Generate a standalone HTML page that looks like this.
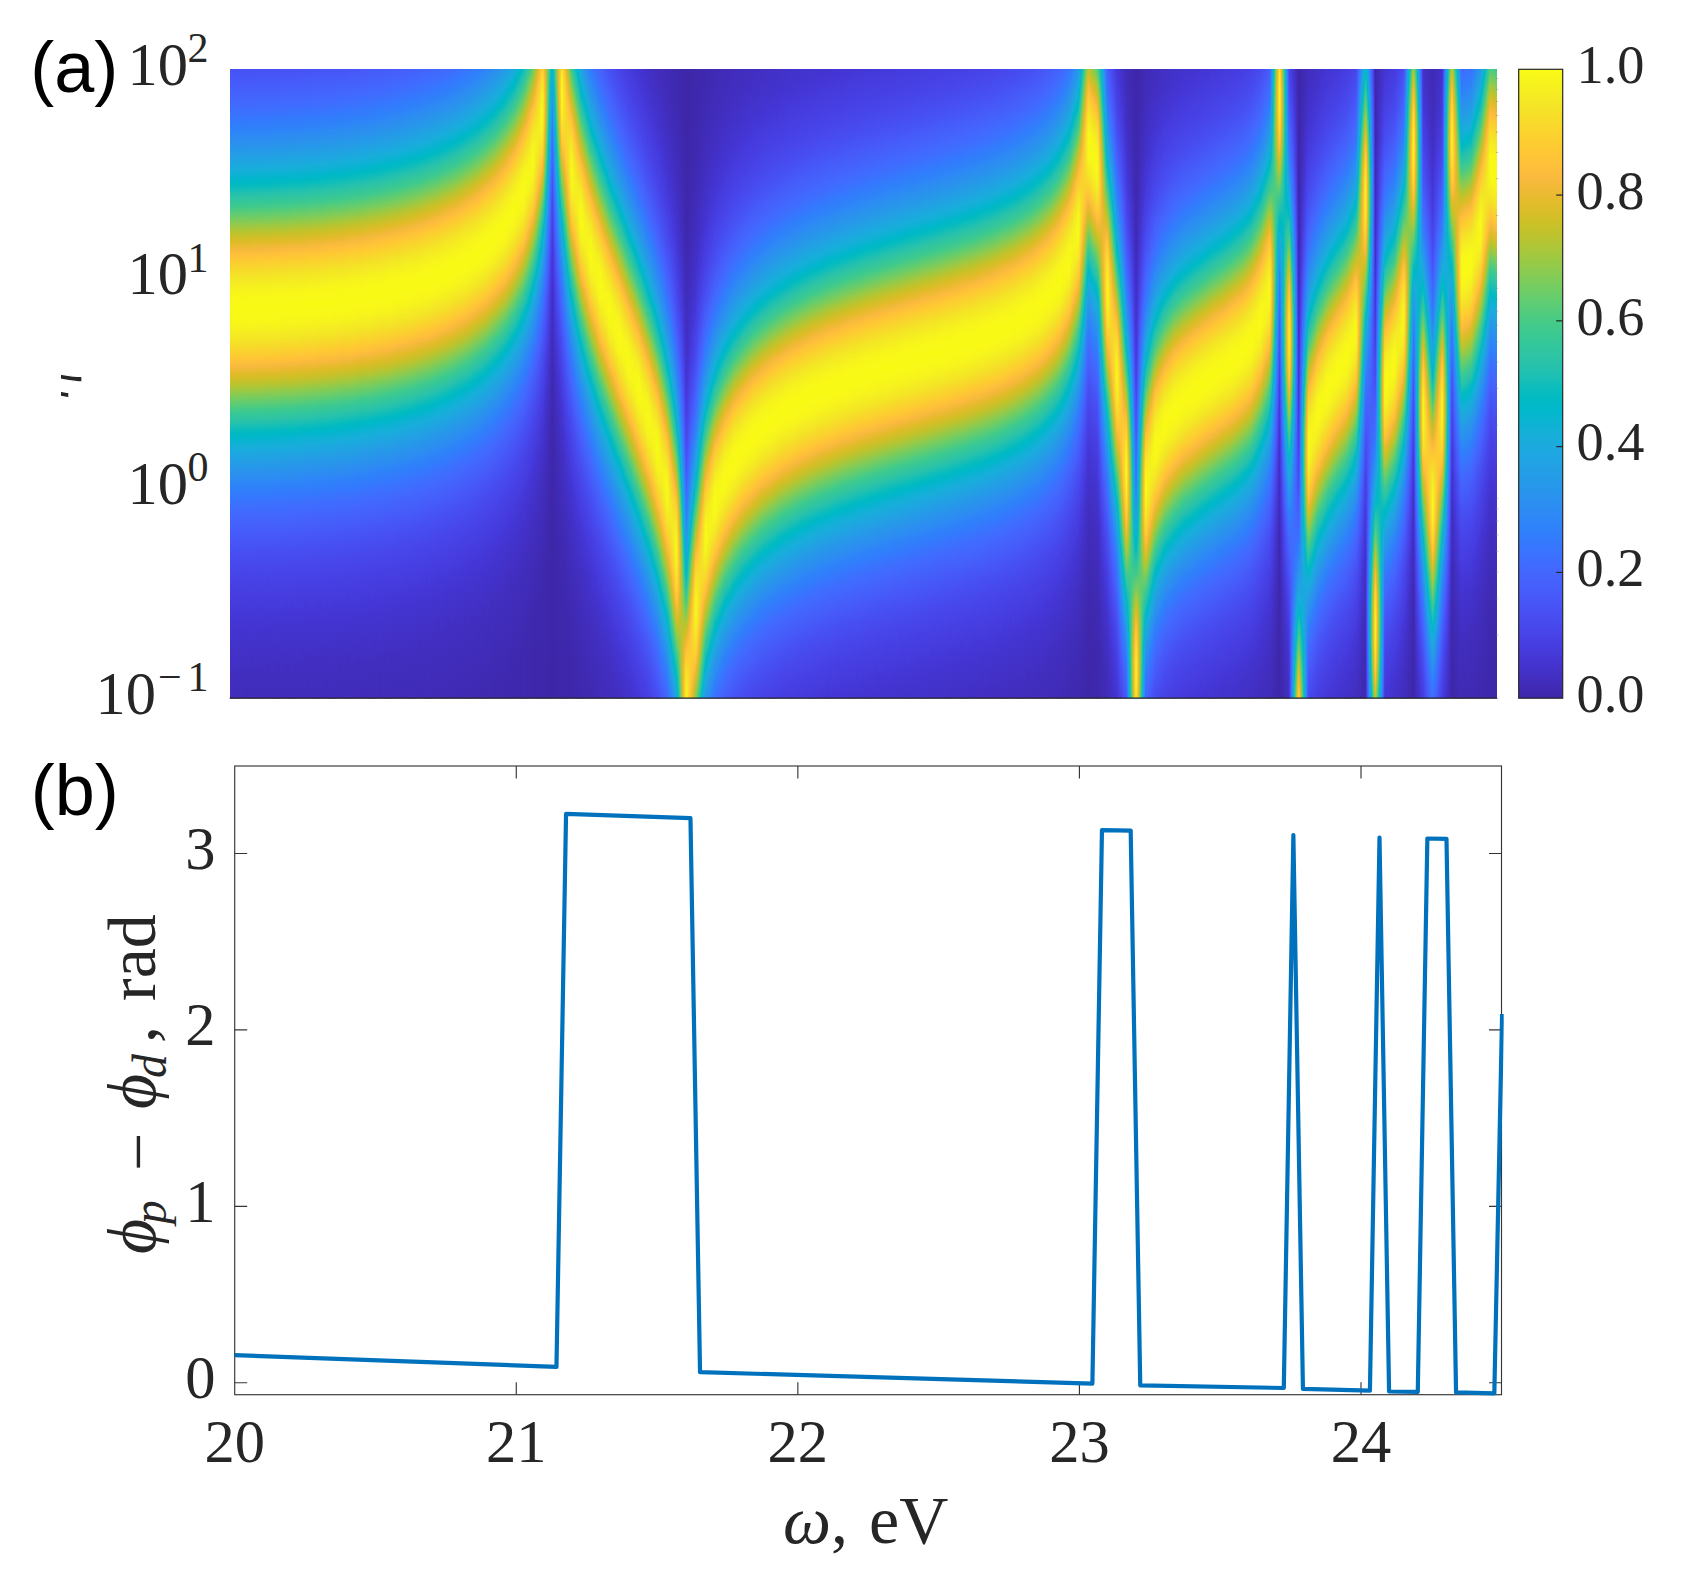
<!DOCTYPE html><html><head><meta charset="utf-8"><title>figure</title><style>html,body{margin:0;padding:0;background:#fff}svg{display:block}text{font-family:"Liberation Serif",serif;fill:#262626}.s{font-family:"Liberation Sans",sans-serif;fill:#000}</style></head><body><svg width="1691" height="1575" viewBox="0 0 1691 1575"><defs><linearGradient id="G" x1="0" y1="0" x2="0" y2="1"><stop offset="0" stop-color="rgb(0,0,0)"/><stop offset="0.02679" stop-color="rgb(0,0,0)"/><stop offset="0.05357" stop-color="rgb(0,0,0)"/><stop offset="0.08036" stop-color="rgb(0,0,0)"/><stop offset="0.10714" stop-color="rgb(0,0,0)"/><stop offset="0.13393" stop-color="rgb(0,0,0)"/><stop offset="0.16071" stop-color="rgb(0,0,0)"/><stop offset="0.1875" stop-color="rgb(0,0,0)"/><stop offset="0.21429" stop-color="rgb(0,0,0)"/><stop offset="0.24107" stop-color="rgb(0,0,0)"/><stop offset="0.26786" stop-color="rgb(0,0,0)"/><stop offset="0.29464" stop-color="rgb(1,1,1)"/><stop offset="0.32143" stop-color="rgb(2,2,2)"/><stop offset="0.32679" stop-color="rgb(2,2,2)"/><stop offset="0.33214" stop-color="rgb(3,3,3)"/><stop offset="0.3375" stop-color="rgb(3,3,3)"/><stop offset="0.34286" stop-color="rgb(4,4,4)"/><stop offset="0.34821" stop-color="rgb(5,5,5)"/><stop offset="0.35357" stop-color="rgb(6,6,6)"/><stop offset="0.35893" stop-color="rgb(7,7,7)"/><stop offset="0.36429" stop-color="rgb(8,8,8)"/><stop offset="0.36964" stop-color="rgb(9,9,9)"/><stop offset="0.375" stop-color="rgb(11,11,11)"/><stop offset="0.38036" stop-color="rgb(13,13,13)"/><stop offset="0.38571" stop-color="rgb(15,15,15)"/><stop offset="0.39107" stop-color="rgb(18,18,18)"/><stop offset="0.39643" stop-color="rgb(21,21,21)"/><stop offset="0.40179" stop-color="rgb(25,25,25)"/><stop offset="0.40714" stop-color="rgb(29,29,29)"/><stop offset="0.4125" stop-color="rgb(34,34,34)"/><stop offset="0.41786" stop-color="rgb(41,41,41)"/><stop offset="0.42321" stop-color="rgb(48,48,48)"/><stop offset="0.42857" stop-color="rgb(56,56,56)"/><stop offset="0.42929" stop-color="rgb(57,57,57)"/><stop offset="0.43143" stop-color="rgb(61,61,61)"/><stop offset="0.43357" stop-color="rgb(65,65,65)"/><stop offset="0.43571" stop-color="rgb(69,69,69)"/><stop offset="0.43786" stop-color="rgb(74,74,74)"/><stop offset="0.44" stop-color="rgb(79,79,79)"/><stop offset="0.44214" stop-color="rgb(84,84,84)"/><stop offset="0.44429" stop-color="rgb(89,89,89)"/><stop offset="0.44643" stop-color="rgb(95,95,95)"/><stop offset="0.44857" stop-color="rgb(101,101,101)"/><stop offset="0.45071" stop-color="rgb(107,107,107)"/><stop offset="0.45286" stop-color="rgb(113,113,113)"/><stop offset="0.455" stop-color="rgb(120,120,120)"/><stop offset="0.45714" stop-color="rgb(127,127,127)"/><stop offset="0.45929" stop-color="rgb(135,135,135)"/><stop offset="0.46143" stop-color="rgb(143,143,143)"/><stop offset="0.46357" stop-color="rgb(150,150,150)"/><stop offset="0.46571" stop-color="rgb(159,159,159)"/><stop offset="0.46786" stop-color="rgb(167,167,167)"/><stop offset="0.47" stop-color="rgb(175,175,175)"/><stop offset="0.47214" stop-color="rgb(184,184,184)"/><stop offset="0.47429" stop-color="rgb(192,192,192)"/><stop offset="0.47643" stop-color="rgb(200,200,200)"/><stop offset="0.47857" stop-color="rgb(208,208,208)"/><stop offset="0.48071" stop-color="rgb(216,216,216)"/><stop offset="0.48286" stop-color="rgb(223,223,223)"/><stop offset="0.485" stop-color="rgb(230,230,230)"/><stop offset="0.48714" stop-color="rgb(236,236,236)"/><stop offset="0.48929" stop-color="rgb(242,242,242)"/><stop offset="0.49143" stop-color="rgb(246,246,246)"/><stop offset="0.49357" stop-color="rgb(250,250,250)"/><stop offset="0.49571" stop-color="rgb(253,253,253)"/><stop offset="0.49786" stop-color="rgb(254,254,254)"/><stop offset="0.5" stop-color="rgb(255,255,255)"/><stop offset="0.50214" stop-color="rgb(254,254,254)"/><stop offset="0.50429" stop-color="rgb(253,253,253)"/><stop offset="0.50643" stop-color="rgb(250,250,250)"/><stop offset="0.50857" stop-color="rgb(246,246,246)"/><stop offset="0.51071" stop-color="rgb(242,242,242)"/><stop offset="0.51286" stop-color="rgb(236,236,236)"/><stop offset="0.515" stop-color="rgb(230,230,230)"/><stop offset="0.51714" stop-color="rgb(223,223,223)"/><stop offset="0.51929" stop-color="rgb(216,216,216)"/><stop offset="0.52143" stop-color="rgb(208,208,208)"/><stop offset="0.52357" stop-color="rgb(200,200,200)"/><stop offset="0.52571" stop-color="rgb(192,192,192)"/><stop offset="0.52786" stop-color="rgb(184,184,184)"/><stop offset="0.53" stop-color="rgb(175,175,175)"/><stop offset="0.53214" stop-color="rgb(167,167,167)"/><stop offset="0.53429" stop-color="rgb(159,159,159)"/><stop offset="0.53643" stop-color="rgb(150,150,150)"/><stop offset="0.53857" stop-color="rgb(143,143,143)"/><stop offset="0.54071" stop-color="rgb(135,135,135)"/><stop offset="0.54286" stop-color="rgb(127,127,127)"/><stop offset="0.545" stop-color="rgb(120,120,120)"/><stop offset="0.54714" stop-color="rgb(113,113,113)"/><stop offset="0.54929" stop-color="rgb(107,107,107)"/><stop offset="0.55143" stop-color="rgb(101,101,101)"/><stop offset="0.55357" stop-color="rgb(95,95,95)"/><stop offset="0.55571" stop-color="rgb(89,89,89)"/><stop offset="0.55786" stop-color="rgb(84,84,84)"/><stop offset="0.56" stop-color="rgb(79,79,79)"/><stop offset="0.56214" stop-color="rgb(74,74,74)"/><stop offset="0.56429" stop-color="rgb(69,69,69)"/><stop offset="0.56643" stop-color="rgb(65,65,65)"/><stop offset="0.56857" stop-color="rgb(61,61,61)"/><stop offset="0.57071" stop-color="rgb(57,57,57)"/><stop offset="0.57143" stop-color="rgb(56,56,56)"/><stop offset="0.57679" stop-color="rgb(48,48,48)"/><stop offset="0.58214" stop-color="rgb(41,41,41)"/><stop offset="0.5875" stop-color="rgb(34,34,34)"/><stop offset="0.59286" stop-color="rgb(29,29,29)"/><stop offset="0.59821" stop-color="rgb(25,25,25)"/><stop offset="0.60357" stop-color="rgb(21,21,21)"/><stop offset="0.60893" stop-color="rgb(18,18,18)"/><stop offset="0.61429" stop-color="rgb(15,15,15)"/><stop offset="0.61964" stop-color="rgb(13,13,13)"/><stop offset="0.625" stop-color="rgb(11,11,11)"/><stop offset="0.63036" stop-color="rgb(9,9,9)"/><stop offset="0.63571" stop-color="rgb(8,8,8)"/><stop offset="0.64107" stop-color="rgb(7,7,7)"/><stop offset="0.64643" stop-color="rgb(6,6,6)"/><stop offset="0.65179" stop-color="rgb(5,5,5)"/><stop offset="0.65714" stop-color="rgb(4,4,4)"/><stop offset="0.6625" stop-color="rgb(3,3,3)"/><stop offset="0.66786" stop-color="rgb(3,3,3)"/><stop offset="0.67321" stop-color="rgb(2,2,2)"/><stop offset="0.67857" stop-color="rgb(2,2,2)"/><stop offset="0.70536" stop-color="rgb(1,1,1)"/><stop offset="0.73214" stop-color="rgb(0,0,0)"/><stop offset="0.75893" stop-color="rgb(0,0,0)"/><stop offset="0.78571" stop-color="rgb(0,0,0)"/><stop offset="0.8125" stop-color="rgb(0,0,0)"/><stop offset="0.83929" stop-color="rgb(0,0,0)"/><stop offset="0.86607" stop-color="rgb(0,0,0)"/><stop offset="0.89286" stop-color="rgb(0,0,0)"/><stop offset="0.91964" stop-color="rgb(0,0,0)"/><stop offset="0.94643" stop-color="rgb(0,0,0)"/><stop offset="0.97321" stop-color="rgb(0,0,0)"/><stop offset="1" stop-color="rgb(0,0,0)"/></linearGradient><linearGradient id="tg" gradientUnits="userSpaceOnUse" x1="1279.6" y1="0" x2="1289.17" y2="0" spreadMethod="reflect"><stop offset="0" stop-color="#fff" stop-opacity="0"/><stop offset="1" stop-color="#fff" stop-opacity="1"/></linearGradient><mask id="tri" maskUnits="userSpaceOnUse" x="200" y="50" width="1320" height="670" style="mask-type:alpha"><rect x="200" y="50" width="1320" height="670" fill="url(#tg)"/></mask><clipPath id="hc"><rect x="230" y="69" width="1267" height="629.2"/></clipPath><filter id="pf" filterUnits="userSpaceOnUse" x="228" y="67" width="1271" height="633.2" color-interpolation-filters="sRGB"><feComponentTransfer><feFuncR type="table" tableValues="0.2422 0.2504 0.2578 0.2647 0.2706 0.2751 0.2783 0.2803 0.2813 0.281 0.2795 0.276 0.2699 0.2602 0.244 0.2206 0.1963 0.1834 0.1786 0.1764 0.1687 0.154 0.146 0.138 0.1248 0.1113 0.0952 0.0689 0.0297 0.0036 0.0067 0.0433 0.0964 0.1408 0.1717 0.1938 0.2161 0.247 0.2906 0.3406 0.3909 0.4456 0.5044 0.5616 0.6174 0.672 0.7242 0.7738 0.8203 0.8634 0.9035 0.9393 0.9728 0.9956 0.997 0.9952 0.9892 0.9786 0.9676 0.961 0.9597 0.9628 0.9691 0.9769"/><feFuncG type="table" tableValues="0.1504 0.165 0.1818 0.1978 0.2147 0.2342 0.2559 0.2782 0.3006 0.3228 0.3447 0.3667 0.3892 0.4123 0.4358 0.4603 0.4847 0.5074 0.5289 0.5499 0.5703 0.5902 0.6091 0.6276 0.6459 0.6635 0.6798 0.6948 0.7082 0.7203 0.7312 0.7411 0.75 0.7584 0.767 0.7758 0.7843 0.7918 0.7973 0.8008 0.8029 0.8024 0.7993 0.7942 0.7876 0.7793 0.7698 0.7598 0.7498 0.7406 0.733 0.7288 0.7298 0.7434 0.7659 0.7893 0.8136 0.8386 0.8639 0.889 0.9135 0.9373 0.9606 0.9839"/><feFuncB type="table" tableValues="0.6603 0.7076 0.7511 0.7952 0.8364 0.871 0.8991 0.9221 0.9414 0.9579 0.9717 0.9829 0.9906 0.9952 0.9988 0.9973 0.9892 0.9798 0.9682 0.952 0.9359 0.9218 0.9079 0.8973 0.8883 0.8763 0.8598 0.8394 0.8163 0.7917 0.766 0.7394 0.712 0.6842 0.6554 0.6251 0.5923 0.5567 0.5188 0.4789 0.4354 0.3909 0.348 0.3045 0.2612 0.2227 0.191 0.1646 0.1535 0.1596 0.1774 0.21 0.2394 0.2371 0.2199 0.2028 0.1885 0.1766 0.1643 0.1537 0.1423 0.1265 0.1064 0.0805"/></feComponentTransfer></filter></defs><defs><linearGradient id="cb" x1="0" y1="0" x2="0" y2="1"><stop offset="0" stop-color="rgb(249,251,21)"/><stop offset="0.0159" stop-color="rgb(247,245,27)"/><stop offset="0.0317" stop-color="rgb(246,239,32)"/><stop offset="0.0476" stop-color="rgb(245,233,36)"/><stop offset="0.0635" stop-color="rgb(245,227,39)"/><stop offset="0.0794" stop-color="rgb(247,220,42)"/><stop offset="0.0952" stop-color="rgb(250,214,45)"/><stop offset="0.1111" stop-color="rgb(252,207,48)"/><stop offset="0.127" stop-color="rgb(254,201,52)"/><stop offset="0.1429" stop-color="rgb(254,195,56)"/><stop offset="0.1587" stop-color="rgb(254,190,60)"/><stop offset="0.1746" stop-color="rgb(248,186,61)"/><stop offset="0.1905" stop-color="rgb(240,186,54)"/><stop offset="0.2063" stop-color="rgb(230,187,45)"/><stop offset="0.2222" stop-color="rgb(220,189,41)"/><stop offset="0.2381" stop-color="rgb(209,191,39)"/><stop offset="0.254" stop-color="rgb(197,194,42)"/><stop offset="0.2698" stop-color="rgb(185,196,49)"/><stop offset="0.2857" stop-color="rgb(171,199,57)"/><stop offset="0.3016" stop-color="rgb(157,201,67)"/><stop offset="0.3175" stop-color="rgb(143,203,78)"/><stop offset="0.3333" stop-color="rgb(129,204,89)"/><stop offset="0.3492" stop-color="rgb(114,205,100)"/><stop offset="0.3651" stop-color="rgb(100,205,111)"/><stop offset="0.381" stop-color="rgb(87,204,122)"/><stop offset="0.3968" stop-color="rgb(74,203,132)"/><stop offset="0.4127" stop-color="rgb(63,202,142)"/><stop offset="0.4286" stop-color="rgb(55,200,151)"/><stop offset="0.4444" stop-color="rgb(49,198,159)"/><stop offset="0.4603" stop-color="rgb(44,196,167)"/><stop offset="0.4762" stop-color="rgb(36,193,174)"/><stop offset="0.4921" stop-color="rgb(25,191,182)"/><stop offset="0.5079" stop-color="rgb(11,189,189)"/><stop offset="0.5238" stop-color="rgb(2,186,195)"/><stop offset="0.5397" stop-color="rgb(1,184,202)"/><stop offset="0.5556" stop-color="rgb(8,181,208)"/><stop offset="0.5714" stop-color="rgb(18,177,214)"/><stop offset="0.5873" stop-color="rgb(24,173,219)"/><stop offset="0.6032" stop-color="rgb(28,169,223)"/><stop offset="0.619" stop-color="rgb(32,165,227)"/><stop offset="0.6349" stop-color="rgb(35,160,229)"/><stop offset="0.6508" stop-color="rgb(37,155,232)"/><stop offset="0.6667" stop-color="rgb(39,151,235)"/><stop offset="0.6825" stop-color="rgb(43,145,239)"/><stop offset="0.6984" stop-color="rgb(45,140,243)"/><stop offset="0.7143" stop-color="rgb(46,135,247)"/><stop offset="0.7302" stop-color="rgb(47,129,250)"/><stop offset="0.746" stop-color="rgb(50,124,252)"/><stop offset="0.7619" stop-color="rgb(56,117,254)"/><stop offset="0.7778" stop-color="rgb(62,111,255)"/><stop offset="0.7937" stop-color="rgb(66,105,254)"/><stop offset="0.8095" stop-color="rgb(69,99,253)"/><stop offset="0.8254" stop-color="rgb(70,94,251)"/><stop offset="0.8413" stop-color="rgb(71,88,248)"/><stop offset="0.8571" stop-color="rgb(72,82,244)"/><stop offset="0.873" stop-color="rgb(72,77,240)"/><stop offset="0.8889" stop-color="rgb(71,71,235)"/><stop offset="0.9048" stop-color="rgb(71,65,229)"/><stop offset="0.9206" stop-color="rgb(70,60,222)"/><stop offset="0.9365" stop-color="rgb(69,55,213)"/><stop offset="0.9524" stop-color="rgb(67,50,203)"/><stop offset="0.9683" stop-color="rgb(66,46,192)"/><stop offset="0.9841" stop-color="rgb(64,42,180)"/><stop offset="1" stop-color="rgb(62,38,168)"/></linearGradient></defs><rect width="100%" height="100%" fill="#fff"/><g filter="url(#pf)"><g clip-path="url(#hc)" fill="url(#G)"><rect x="200" y="50" width="1320" height="670" fill="#000"/><g><rect x="217.03" y="-1091.2" width="19.74" height="2800"/><rect x="236.17" y="-1091.6" width="19.74" height="2800"/><rect x="255.31" y="-1092.3" width="19.74" height="2800"/><rect x="274.45" y="-1093.4" width="19.74" height="2800"/><rect x="293.59" y="-1094.8" width="19.74" height="2800"/><rect x="312.73" y="-1096.7" width="19.74" height="2800"/><rect x="331.87" y="-1099.1" width="19.74" height="2800"/><rect x="351.01" y="-1102.1" width="19.74" height="2800"/><rect x="370.15" y="-1105.8" width="19.74" height="2800"/><rect x="389.29" y="-1110.4" width="19.74" height="2800"/><rect x="408.43" y="-1116" width="19.74" height="2800"/><rect x="427.57" y="-1123.2" width="19.74" height="2800"/><rect x="446.71" y="-1132.5" width="19.74" height="2800"/><rect x="465.85" y="-1144.8" width="19.74" height="2800"/><rect x="484.99" y="-1162.1" width="19.74" height="2800"/><rect x="504.13" y="-1188.8" width="19.74" height="2800"/><rect x="523.27" y="-1238.4" width="19.74" height="2800"/><rect x="542.41" y="-1464.7" width="19.74" height="2800"/><rect x="561.55" y="-1228.4" width="19.74" height="2800"/><rect x="580.69" y="-1145.9" width="19.74" height="2800"/><rect x="599.83" y="-1088.8" width="19.74" height="2800"/><rect x="618.97" y="-1037.6" width="19.74" height="2800"/><rect x="638.11" y="-982.8" width="19.74" height="2800"/><rect x="657.25" y="-909.2" width="19.74" height="2800"/><rect x="676.39" y="-697.5" width="19.74" height="2800"/><rect x="695.53" y="-861.6" width="19.74" height="2800"/><rect x="714.67" y="-921.7" width="19.74" height="2800"/><rect x="733.81" y="-952.3" width="19.74" height="2800"/><rect x="752.95" y="-972.3" width="19.74" height="2800"/><rect x="772.09" y="-986.8" width="19.74" height="2800"/><rect x="791.23" y="-998.1" width="19.74" height="2800"/><rect x="810.37" y="-1007.4" width="19.74" height="2800"/><rect x="829.51" y="-1015.4" width="19.74" height="2800"/><rect x="848.65" y="-1022.4" width="19.74" height="2800"/><rect x="867.79" y="-1028.9" width="19.74" height="2800"/><rect x="886.93" y="-1034.9" width="19.74" height="2800"/><rect x="906.07" y="-1040.8" width="19.74" height="2800"/><rect x="925.21" y="-1046.6" width="19.74" height="2800"/><rect x="944.35" y="-1052.7" width="19.74" height="2800"/><rect x="963.49" y="-1059.2" width="19.74" height="2800"/><rect x="982.63" y="-1066.5" width="19.74" height="2800"/><rect x="1001.77" y="-1075.5" width="19.74" height="2800"/><rect x="1020.91" y="-1087.2" width="19.74" height="2800"/><rect x="1040.05" y="-1104.8" width="19.74" height="2800"/><rect x="1059.19" y="-1137.7" width="19.74" height="2800"/><rect x="1078.33" y="-1256.8" width="19.74" height="2800"/><rect x="1097.47" y="-1109" width="19.74" height="2800"/><rect x="1116.61" y="-926.6" width="19.74" height="2800"/><rect x="1135.75" y="-910.2" width="19.74" height="2800"/><rect x="1154.89" y="-975.8" width="19.74" height="2800"/><rect x="1174.03" y="-1000.5" width="19.74" height="2800"/><rect x="1193.17" y="-1016.3" width="19.74" height="2800"/><rect x="1212.31" y="-1030.5" width="19.74" height="2800"/><rect x="1231.45" y="-1046.6" width="19.74" height="2800"/><rect x="1250.59" y="-1079" width="19.74" height="2800"/><rect x="1269.73" y="-1305" width="19.74" height="2800"/><rect x="1288.87" y="-665" width="19.74" height="2800"/><rect x="1308.01" y="-987" width="19.74" height="2800"/><rect x="1327.15" y="-1027" width="19.74" height="2800"/><rect x="1346.29" y="-1068" width="19.74" height="2800"/><rect x="1365.43" y="-772" width="19.74" height="2800"/><rect x="1384.57" y="-1037" width="19.74" height="2800"/><rect x="1403.71" y="-1254" width="19.74" height="2800"/><rect x="1422.85" y="-896" width="19.74" height="2800"/><rect x="1441.99" y="-1262" width="19.74" height="2800"/><rect x="1461.13" y="-1136" width="19.74" height="2800"/><rect x="1480.27" y="-1233" width="19.74" height="2800"/><rect x="1499.41" y="-1225" width="19.74" height="2800"/></g><g mask="url(#tri)"><rect x="207.46" y="-1091.1" width="19.74" height="2800"/><rect x="226.6" y="-1091.3" width="19.74" height="2800"/><rect x="245.74" y="-1091.9" width="19.74" height="2800"/><rect x="264.88" y="-1092.8" width="19.74" height="2800"/><rect x="284.02" y="-1094" width="19.74" height="2800"/><rect x="303.16" y="-1095.7" width="19.74" height="2800"/><rect x="322.3" y="-1097.8" width="19.74" height="2800"/><rect x="341.44" y="-1100.5" width="19.74" height="2800"/><rect x="360.58" y="-1103.8" width="19.74" height="2800"/><rect x="379.72" y="-1107.9" width="19.74" height="2800"/><rect x="398.86" y="-1113" width="19.74" height="2800"/><rect x="418" y="-1119.4" width="19.74" height="2800"/><rect x="437.14" y="-1127.5" width="19.74" height="2800"/><rect x="456.28" y="-1138.1" width="19.74" height="2800"/><rect x="475.42" y="-1152.6" width="19.74" height="2800"/><rect x="494.56" y="-1173.8" width="19.74" height="2800"/><rect x="513.7" y="-1208.9" width="19.74" height="2800"/><rect x="532.84" y="-1289.6" width="19.74" height="2800"/><rect x="551.98" y="-1306.6" width="19.74" height="2800"/><rect x="571.12" y="-1181.5" width="19.74" height="2800"/><rect x="590.26" y="-1115.9" width="19.74" height="2800"/><rect x="609.4" y="-1063.1" width="19.74" height="2800"/><rect x="628.54" y="-1011.3" width="19.74" height="2800"/><rect x="647.68" y="-950.1" width="19.74" height="2800"/><rect x="666.82" y="-848.9" width="19.74" height="2800"/><rect x="685.96" y="-789.4" width="19.74" height="2800"/><rect x="705.1" y="-898" width="19.74" height="2800"/><rect x="724.24" y="-938.9" width="19.74" height="2800"/><rect x="743.38" y="-963.2" width="19.74" height="2800"/><rect x="762.52" y="-980" width="19.74" height="2800"/><rect x="781.66" y="-992.7" width="19.74" height="2800"/><rect x="800.8" y="-1003" width="19.74" height="2800"/><rect x="819.94" y="-1011.5" width="19.74" height="2800"/><rect x="839.08" y="-1019" width="19.74" height="2800"/><rect x="858.22" y="-1025.7" width="19.74" height="2800"/><rect x="877.36" y="-1031.9" width="19.74" height="2800"/><rect x="896.5" y="-1037.9" width="19.74" height="2800"/><rect x="915.64" y="-1043.7" width="19.74" height="2800"/><rect x="934.78" y="-1049.6" width="19.74" height="2800"/><rect x="953.92" y="-1055.8" width="19.74" height="2800"/><rect x="973.06" y="-1062.7" width="19.74" height="2800"/><rect x="992.2" y="-1070.8" width="19.74" height="2800"/><rect x="1011.34" y="-1080.9" width="19.74" height="2800"/><rect x="1030.48" y="-1095" width="19.74" height="2800"/><rect x="1049.62" y="-1118.1" width="19.74" height="2800"/><rect x="1068.76" y="-1171.4" width="19.74" height="2800"/><rect x="1087.9" y="-1233.9" width="19.74" height="2800"/><rect x="1107.04" y="-1025" width="19.74" height="2800"/><rect x="1126.18" y="-723.7" width="19.74" height="2800"/><rect x="1145.32" y="-953.3" width="19.74" height="2800"/><rect x="1164.46" y="-990.2" width="19.74" height="2800"/><rect x="1183.6" y="-1008.4" width="19.74" height="2800"/><rect x="1202.74" y="-1023.5" width="19.74" height="2800"/><rect x="1221.88" y="-1037.9" width="19.74" height="2800"/><rect x="1241.02" y="-1057.8" width="19.74" height="2800"/><rect x="1260.16" y="-1109" width="19.74" height="2800"/><rect x="1279.3" y="-1064" width="19.74" height="2800"/><rect x="1298.44" y="-954" width="19.74" height="2800"/><rect x="1317.58" y="-1010" width="19.74" height="2800"/><rect x="1336.72" y="-1043" width="19.74" height="2800"/><rect x="1355.86" y="-1205" width="19.74" height="2800"/><rect x="1375" y="-1014" width="19.74" height="2800"/><rect x="1394.14" y="-1083" width="19.74" height="2800"/><rect x="1413.28" y="-988" width="19.74" height="2800"/><rect x="1432.42" y="-990" width="19.74" height="2800"/><rect x="1451.56" y="-1128" width="19.74" height="2800"/><rect x="1470.7" y="-1172.5" width="19.74" height="2800"/><rect x="1489.84" y="-1225" width="19.74" height="2800"/></g></g></g><path d="M229.7 698.2H1497.3" stroke="#262626" stroke-width="1.3" fill="none"/><path d="M1495.8 215.6h2.4M1495.8 178.67h2.4M1495.8 152.46h2.4M1495.8 132.14h2.4M1495.8 115.53h2.4M1495.8 101.49h2.4M1495.8 89.33h2.4M1495.8 78.6h2.4M1495.8 425.33h2.4M1495.8 388.4h2.4M1495.8 362.19h2.4M1495.8 341.87h2.4M1495.8 325.26h2.4M1495.8 311.22h2.4M1495.8 299.06h2.4M1495.8 288.33h2.4M1495.8 635.06h2.4M1495.8 598.13h2.4M1495.8 571.93h2.4M1495.8 551.6h2.4M1495.8 535h2.4M1495.8 520.95h2.4M1495.8 508.79h2.4M1495.8 498.06h2.4" stroke="#8a8a8a" stroke-width="1" opacity="0.55" fill="none"/><rect x="1518.7" y="69.3" width="44" height="628.9" fill="url(#cb)" stroke="#262626" stroke-width="1.2"/><line x1="1556.2" x2="1562.7" y1="572.42" y2="572.42" stroke="#262626" stroke-width="1.2"/><line x1="1556.2" x2="1562.7" y1="446.64" y2="446.64" stroke="#262626" stroke-width="1.2"/><line x1="1556.2" x2="1562.7" y1="320.86" y2="320.86" stroke="#262626" stroke-width="1.2"/><line x1="1556.2" x2="1562.7" y1="195.08" y2="195.08" stroke="#262626" stroke-width="1.2"/><g stroke="#363636" stroke-width="1.15" fill="none"><rect x="234.7" y="766" width="1266.8" height="628.7"/><path d="M516.27 1394.7v-12.5M516.27 766v12.5M797.85 1394.7v-12.5M797.85 766v12.5M1079.42 1394.7v-12.5M1079.42 766v12.5M1361 1394.7v-12.5M1361 766v12.5M234.7 1382.7h12.5M1501.5 1382.7h-12.5M234.7 1206.3h12.5M1501.5 1206.3h-12.5M234.7 1029.9h12.5M1501.5 1029.9h-12.5M234.7 853.5h12.5M1501.5 853.5h-12.5"/></g><clipPath id="lc"><rect x="232.5" y="766" width="1271.2" height="630.2"/></clipPath><polyline clip-path="url(#lc)" points="234.7,1355.18 556.48,1366.82 566.05,813.81 690.46,818.22 700.03,1372.12 1092.4,1383.58 1101.97,830.04 1130.68,830.57 1140.25,1385.35 1283.8,1387.99 1293.37,835.15 1302.94,1388.87 1369.93,1390.64 1379.5,837.62 1389.07,1391.52 1417.78,1391.87 1427.35,838.51 1446.49,838.86 1456.06,1392.4 1494.34,1393.28 1502.1,1014.02" fill="none" stroke="#0072BD" stroke-width="4.2" stroke-linejoin="round" stroke-linecap="butt"/><text x="30.2" y="92" font-size="72" text-anchor="start" class="s">(a)</text><text x="30.8" y="814.6" font-size="72" text-anchor="start" class="s">(b)</text><text y="84.6" font-size="60.5"><tspan x="127.5">10</tspan><tspan x="187.5" dy="-22.6" font-size="42">2</tspan></text><text y="294.33" font-size="60.5"><tspan x="127.5">10</tspan><tspan x="187.5" dy="-22.6" font-size="42">1</tspan></text><text y="504.07" font-size="60.5"><tspan x="127.5">10</tspan><tspan x="187.5" dy="-22.6" font-size="42">0</tspan></text><text y="713.8" font-size="60.5"><tspan x="95.5">10</tspan><tspan x="158" dy="-22.6" font-size="42">−</tspan><tspan x="187.5" font-size="42">1</tspan></text><text x="1576.5" y="711.8" font-size="54.3" text-anchor="start">0.0</text><text x="1576.5" y="586.06" font-size="54.3" text-anchor="start">0.2</text><text x="1576.5" y="460.32" font-size="54.3" text-anchor="start">0.4</text><text x="1576.5" y="334.58" font-size="54.3" text-anchor="start">0.6</text><text x="1576.5" y="208.84" font-size="54.3" text-anchor="start">0.8</text><text x="1576.5" y="83.1" font-size="54.3" text-anchor="start">1.0</text><text x="215.5" y="1397.9" font-size="60.5" text-anchor="end">0</text><text x="215.5" y="1221.5" font-size="60.5" text-anchor="end">1</text><text x="215.5" y="1045.1" font-size="60.5" text-anchor="end">2</text><text x="215.5" y="868.7" font-size="60.5" text-anchor="end">3</text><text x="234.7" y="1462.4" font-size="60.5" text-anchor="middle">20</text><text x="516.27" y="1462.4" font-size="60.5" text-anchor="middle">21</text><text x="797.85" y="1462.4" font-size="60.5" text-anchor="middle">22</text><text x="1079.42" y="1462.4" font-size="60.5" text-anchor="middle">23</text><text x="1361" y="1462.4" font-size="60.5" text-anchor="middle">24</text><text y="1542.7" font-size="68"><tspan x="783" font-style="italic">ω</tspan><tspan x="831">,</tspan><tspan x="869">eV</tspan></text><text transform="translate(155.2 1081) rotate(-90)" font-size="68"><tspan x="-173" font-style="italic">ϕ</tspan><tspan x="-143" font-style="italic" font-size="47.6" dy="11">p</tspan><tspan x="-90" dy="-5">−</tspan><tspan x="-28" dy="-6" font-style="italic">ϕ</tspan><tspan x="3" font-style="italic" font-size="47.6" dy="11">d</tspan><tspan x="38" dy="-11">,</tspan><tspan x="80">rad</tspan></text><clipPath id="ec"><rect x="61" y="300" width="60" height="160"/></clipPath><g clip-path="url(#ec)"><text transform="translate(68.5 400) rotate(-90)" font-size="62" font-style="italic" stroke="#fff" stroke-width="1.2">η</text></g></svg></body></html>
